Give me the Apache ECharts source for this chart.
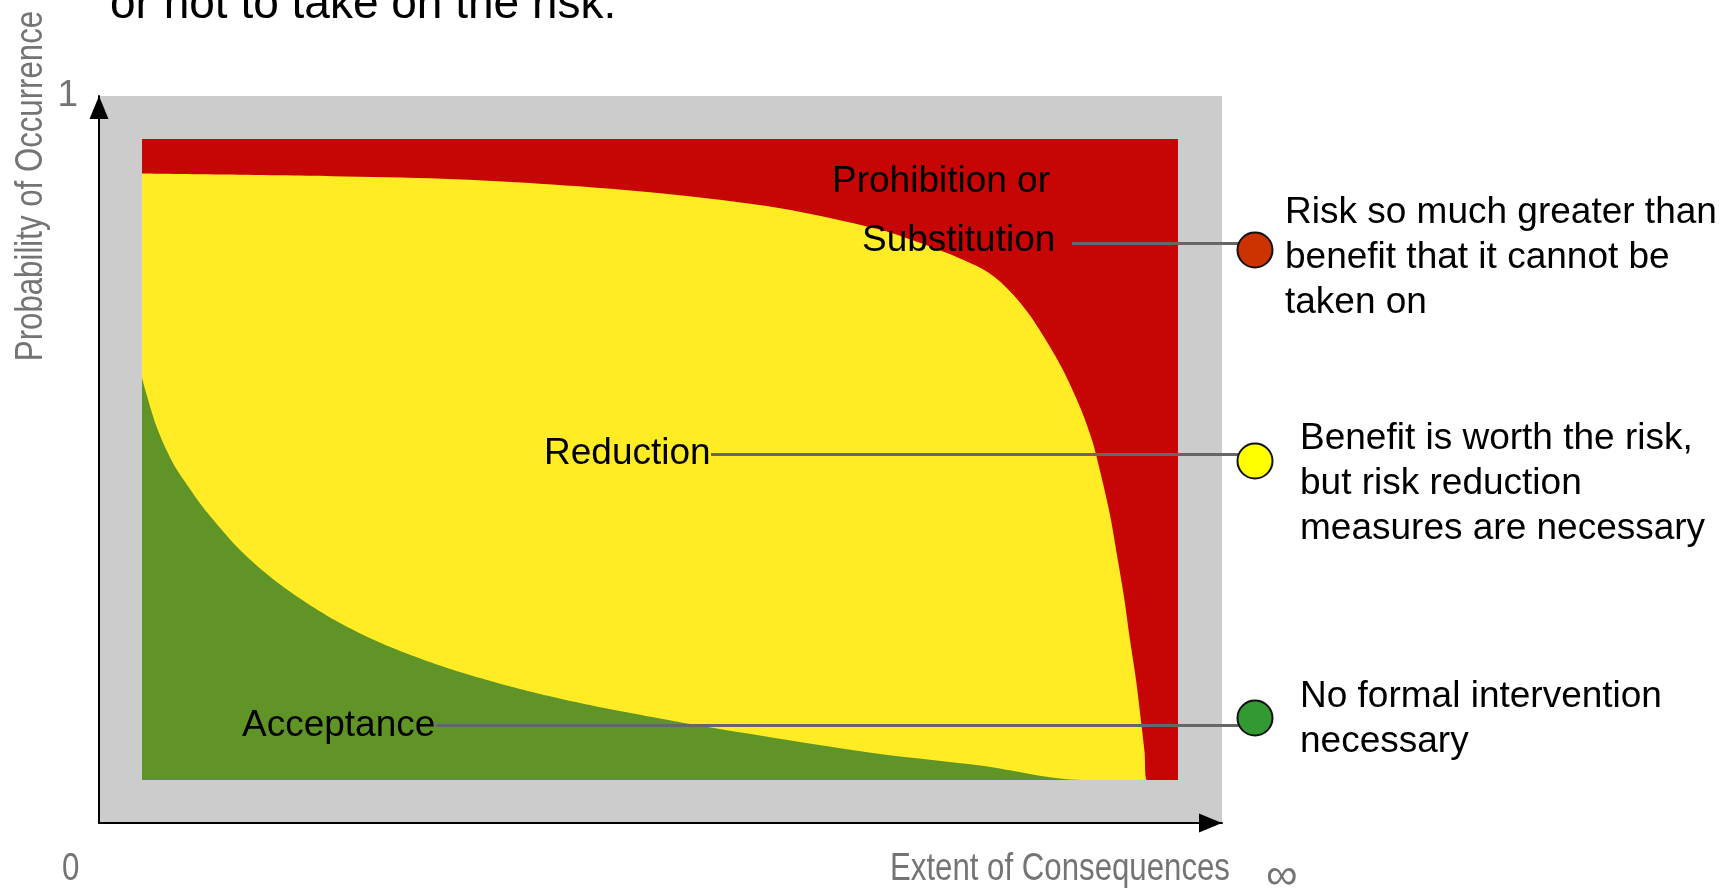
<!DOCTYPE html>
<html><head><meta charset="utf-8">
<script src="https://cdn.jsdelivr.net/npm/echarts@6/dist/echarts.min.js"></script>
<style>html,body{margin:0;padding:0;background:#fff}#c{width:1733px;height:892px}</style>
</head><body><div id="c"></div>
<script>
// x: extent of consequences (0–100), y: probability of occurrence (0–100)
const redX = [0, 100];
const redY = [100, 100];
const upperX = [0, 18.3, 29.0, 39.6, 50.3, 61.6, 71.2, 74.4, 77.7, 80.9, 82.5, 84.1, 85.7, 87.36, 88.9, 90.54, 91.7, 92.57, 93.44, 94.11, 94.79, 95.37, 95.95, 96.43, 96.77, 97.01, 100];
const upperY = [94.6, 94.2, 93.8, 92.9, 91.5, 89.2, 85.9, 84.2, 82.2, 79.9, 78.2, 75.7, 72.5, 68.33, 63.96, 58.19, 53.04, 47.58, 41.34, 35.1, 28.55, 21.84, 15.6, 9.2, 4.37, 0, 0];
const lowerX = [0, 1.42, 2.99, 4.63, 6.25, 9.46, 12.64, 15.9, 19.11, 22.3, 25.55, 28.76, 31.95, 35.2, 38.42, 41.6, 44.88, 50.0, 53.47, 63.51, 71.24, 80.89, 90.83, 100];
const lowerY = [62.71, 55.07, 49.45, 45.4, 41.81, 35.88, 31.36, 27.61, 24.49, 21.92, 19.73, 17.86, 16.22, 14.74, 13.42, 12.25, 11.15, 9.59, 8.58, 5.93, 4.06, 2.26, 0, 0];
const zoneNames = ['Prohibition or', 'Substitution', 'Reduction', 'Acceptance'];
const zoneDescriptions = [
  'Risk so much greater than\nbenefit that it cannot be\ntaken on',
  'Benefit is worth the risk,\nbut risk reduction\nmeasures are necessary',
  'No formal intervention\nnecessary'
];
const axisTexts = { yTitle: 'Probability of Occurrence', xTitle: 'Extent of Consequences', yMax: '1', origin: '0', inf: '∞' };
const headerText = 'or not to take on the risk.';

const zip = (xs, ys) => xs.map((x, i) => [x, ys[i]]);
const SANS = "'Liberation Sans', Arial, sans-serif";
const GRAY = '#747474';
const NARROW_SCALE = 0.8;

function areaSeries(data, color, z) {
  return {
    type: 'line', xAxisIndex: 1, yAxisIndex: 1, data, z,
    symbol: 'none', silent: true, smooth: 0.3,
    lineStyle: { width: 0, color }, areaStyle: { color, opacity: 1 }
  };
}
function txt(x, y, text, size, color, extra, align) {
  const a = align || 'left';
  return Object.assign({
    type: 'text', x, y, z: 100, silent: true,
    style: { x: 0, y: 0, text, fontFamily: SANS, fontSize: size, fill: color,
      align: a, textAlign: a, verticalAlign: 'middle', textVerticalAlign: 'middle', lineHeight: 45 }
  }, extra || {});
}
function narrow(x, y, text, size, extra, align) {
  return txt(x, y, text, size, GRAY, Object.assign({ scaleX: NARROW_SCALE }, extra || {}), align);
}
function leader(x1, x2, y) {
  return { type: 'line', z: 90, silent: true, shape: { x1, y1: y, x2, y2: y }, style: { stroke: '#666666', lineWidth: 3 } };
}
function dot(cx, cy, color) {
  return { type: 'circle', z: 95, silent: true, shape: { cx, cy, r: 17.5 }, style: { fill: color, stroke: '#111', lineWidth: 2 } };
}

const chart = echarts.init(document.getElementById('c'), null, { renderer: 'canvas' });
const arrowAxisLine = { show: true, symbol: ['none', 'triangle'], symbolSize: [19, 23], symbolOffset: [0, -11.5], lineStyle: { color: '#000', width: 2 } };
chart.setOption({
  animation: false,
  backgroundColor: '#ffffff',
  grid: [
    { left: 99, top: 96, width: 1123, height: 727, show: true, backgroundColor: '#cccccc', borderWidth: 0 },
    { left: 142, top: 139, width: 1036, height: 641, show: false }
  ],
  xAxis: [
    { gridIndex: 0, type: 'value', min: 0, max: 1, interval: 1, axisLine: arrowAxisLine, axisTick: { show: false }, axisLabel: { show: false }, splitLine: { show: false } },
    { gridIndex: 1, type: 'value', min: 0, max: 100, show: false }
  ],
  yAxis: [
    { gridIndex: 0, type: 'value', min: 0, max: 1, interval: 1, axisLine: arrowAxisLine, axisTick: { show: false }, splitLine: { show: false },
      axisLabel: { show: true, margin: 21, color: GRAY, fontSize: 37, fontFamily: SANS, formatter: v => (v === 1 ? axisTexts.yMax : '') } },
    { gridIndex: 1, type: 'value', min: 0, max: 100, show: false }
  ],
  series: [
    areaSeries(zip(redX, redY), '#c80505', 2),
    areaSeries(zip(upperX, upperY), '#ffec24', 3),
    areaSeries(zip(lowerX, lowerY), '#619426', 4)
  ],
  graphic: [
    txt(110, 5, headerText, 46, '#000'),
    narrow(31, 186, axisTexts.yTitle, 39, { rotation: Math.PI / 2 }, 'center'),
    narrow(62, 869, axisTexts.origin, 39),
    narrow(890, 869, axisTexts.xTitle, 39),
    txt(1266, 877, axisTexts.inf, 44, GRAY),
    leader(1072, 1240, 243.5),
    leader(711, 1240, 454.5),
    leader(436, 1240, 725.5),
    dot(1255, 250, '#cc3300'),
    dot(1255, 461, '#ffff00'),
    dot(1255, 718, '#339933'),
    txt(832, 182, zoneNames[0], 37, '#000'),
    txt(862, 241, zoneNames[1], 37, '#000'),
    txt(544, 454, zoneNames[2], 37, '#000'),
    txt(242, 726, zoneNames[3], 37, '#000'),
    txt(1285, 258, zoneDescriptions[0], 37, '#000'),
    txt(1300, 484, zoneDescriptions[1], 37, '#000'),
    txt(1300, 719, zoneDescriptions[2], 37, '#000')
  ]
});
</script>
</body></html>
